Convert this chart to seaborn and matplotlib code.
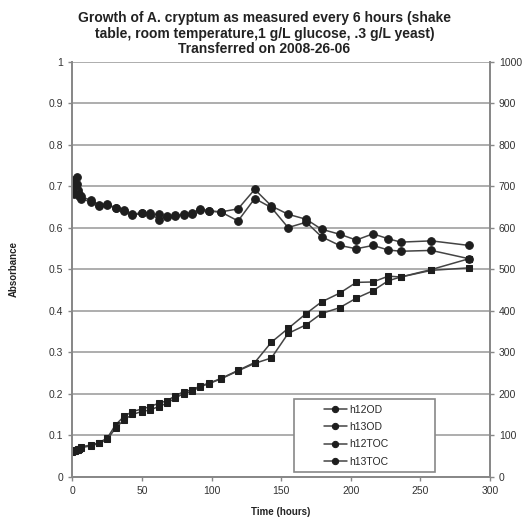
import numpy as np
import pandas as pd
import seaborn as sns
import matplotlib.pyplot as plt
from matplotlib.patches import Rectangle
from matplotlib.ticker import FormatStrFormatter


TITLE = ("Growth of A. cryptum as measured every 6 hours (shake\n"
         "table, room temperature,1 g/L glucose, .3 g/L yeast)\n"
         "Transferred on 2008-26-06")
X_LABEL = "Time (hours)"
Y_LABEL = "Absorbance"

hours = [0, 1, 2, 3, 4, 5, 6, 13, 19, 25, 31, 37, 43, 50, 56, 62, 68, 74,
         80, 86, 92, 98, 107, 119, 131, 143, 155, 168, 179, 192, 204, 216,
         227, 236, 258, 285]

h12_od = [0.062, 0.063, 0.064, 0.065, 0.066, 0.067, 0.072, 0.076, 0.082,
          0.093, 0.125, 0.145, 0.157, 0.163, 0.169, 0.177, 0.183, 0.195,
          0.205, 0.209, 0.219, 0.225, 0.237, 0.256, 0.275, 0.324, 0.357,
          0.393, 0.421, 0.442, 0.468, 0.469, 0.483, 0.481, 0.499, 0.525]
h13_od = [0.060, 0.062, 0.063, 0.064, 0.065, 0.066, 0.070, 0.074, 0.080,
          0.090, 0.117, 0.137, 0.150, 0.157, 0.161, 0.169, 0.177, 0.190,
          0.200, 0.206, 0.217, 0.224, 0.236, 0.255, 0.273, 0.286, 0.345,
          0.366, 0.393, 0.407, 0.430, 0.448, 0.472, 0.481, 0.497, 0.503]
h12_toc = [715, 700, 690, 722, 690, 680, 675, 666, 655, 656, 648, 642, 630,
           634, 635, 618, 628, 628, 632, 635, 645, 640, 638, 645, 692, 652,
           632, 620, 596, 584, 570, 585, 573, 565, 568, 557]
h13_toc = [690, 680, 700, 705, 680, 675, 670, 662, 652, 655, 646, 640, 632,
           636, 630, 633, 626, 630, 630, 632, 642, 640, 637, 616, 670, 648,
           600, 613, 578, 557, 549, 557, 546, 543, 545, 525]

LABELS = ["h12OD", "h13OD", "h12TOC", "h13TOC"]


def main():
    sns.set_style("white")
    plt.rcParams['font.family'] = ['Liberation Sans', 'DejaVu Sans']

    fig = plt.figure(figsize=(5.29, 5.19), dpi=100)
    ax = fig.add_axes([0.137, 0.0815, 0.789, 0.800])
    ax2 = ax.twinx()

    od = pd.DataFrame({"t": hours, "h12OD": h12_od, "h13OD": h13_od})
    toc = pd.DataFrame({"t": hours, "h12TOC": h12_toc, "h13TOC": h13_toc})

    style = dict(color="#444444", linewidth=1.1, markerfacecolor="#1e1e1e",
                 markeredgecolor="#1e1e1e", sort=False, legend=False)
    for col in ["h12OD", "h13OD"]:
        sns.lineplot(data=od, x="t", y=col, ax=ax, marker="s", markersize=5, **style)
    for col in ["h12TOC", "h13TOC"]:
        sns.lineplot(data=toc, x="t", y=col, ax=ax2, marker="o", markersize=5.5, **style)

    grid = "#a0a0a0"
    ax.set_xlim(0, 300)
    ax.set_ylim(0, 1)
    ax2.set_ylim(0, 1000)
    ax.set_xticks(np.arange(0, 301, 50))
    ax.set_yticks(np.arange(0, 1.01, 0.1))
    ax2.set_yticks(np.arange(0, 1001, 100))
    ax.yaxis.set_major_formatter(FormatStrFormatter("%g"))
    ax.yaxis.grid(True, color=grid, linewidth=1.2)
    ax.set_axisbelow(True)

    for a in (ax, ax2):
        for side in a.spines:
            a.spines[side].set_color("#888888")
            a.spines[side].set_linewidth(1.3)
        a.spines["top"].set_visible(False)
        a.tick_params(colors="#888888", labelcolor="#333333", labelsize=7.5,
                      length=3, width=1, direction="out")
        a.set_ylabel("")
    ax.tick_params(axis="both", left=True, bottom=True)
    ax2.tick_params(axis="y", right=True)

    ax.set_xlabel(X_LABEL, fontsize=7, fontweight="bold", color="#222222", labelpad=8)
    ax.set_ylabel(Y_LABEL, fontsize=7, fontweight="bold", color="#222222", labelpad=22)
    fig.suptitle(TITLE, fontsize=10, fontweight="bold", color="#222222",
                 y=0.978, linespacing=1.1)

    # legend with Excel-like box
    ax2.add_patch(Rectangle((0.531, 0.011), 0.337, 0.176, transform=ax2.transAxes,
                            facecolor="white", edgecolor="#888888", linewidth=1.2,
                            zorder=5))
    handles = ax.get_lines()[:2] + ax2.get_lines()[:2]
    leg = ax2.legend(handles, LABELS, loc="center left", bbox_to_anchor=(0.59, 0.099),
                     frameon=False, fontsize=7.5, handlelength=2.2, handletextpad=0.2,
                     labelspacing=0.7, borderpad=0)
    for h in leg.legend_handles:
        h.set_marker("o")
        h.set_markersize(4.5)
    leg.set_zorder(6)

    fig.savefig("out.png", dpi=100)


main()
